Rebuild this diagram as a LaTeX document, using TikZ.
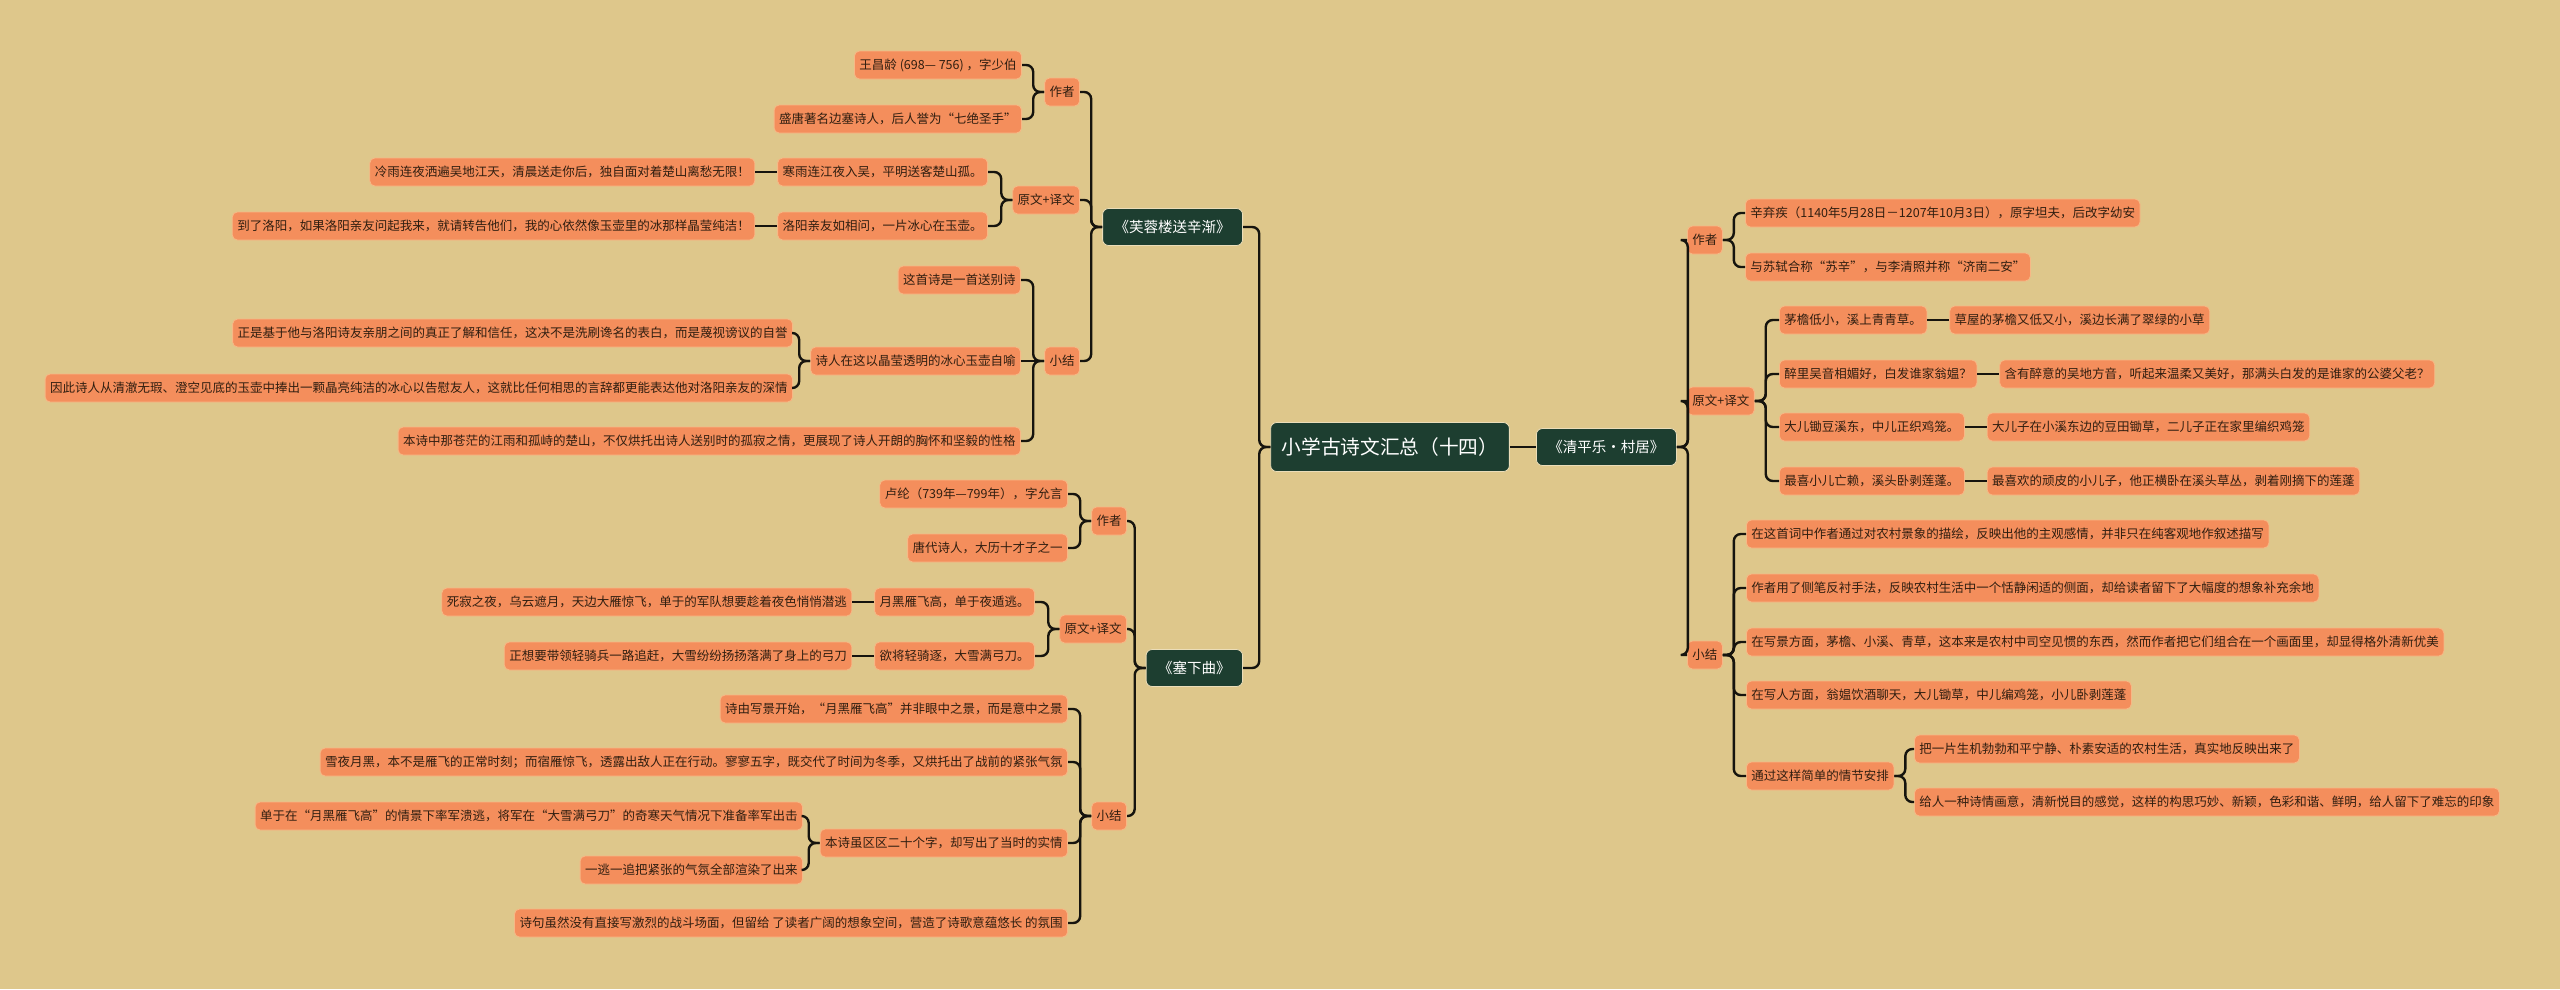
\documentclass[tikz,border=0pt]{standalone}
\usepackage{fontspec}
\setmainfont{Noto Sans CJK SC}
\usetikzlibrary{positioning}
\definecolor{bgtan}{RGB}{222,199,139}
\definecolor{leaffill}{RGB}{244,142,92}
\definecolor{leafline}{RGB}{247,184,134}
\definecolor{leaftext}{RGB}{48,30,16}
\definecolor{topicfill}{RGB}{29,62,48}
\definecolor{linkcol}{RGB}{22,20,14}
\tikzset {
  every node/.style={font=\fontsize{12.5}{15}\selectfont},
  leaf/.style={draw=leafline, line width=0.8pt, fill=leaffill, text=leaftext,
    rounded corners=5pt, minimum height=28pt, inner xsep=5pt, inner ysep=2pt},
  topic/.style={draw=bgtan!60!white, line width=0.8pt, fill=topicfill, text=white,
    rounded corners=6pt, minimum height=37pt, inner xsep=12pt,
    font=\fontsize{14.5}{17}\selectfont},
  rootnode/.style={topic, minimum height=49pt, inner xsep=11pt,
    font=\fontsize{19.7}{23}\selectfont},
  link/.style={draw=linkcol, line width=2.4pt, rounded corners=7pt},
}

\begin{document}
\begin{tikzpicture}[x=1pt,y=-1pt]
  \fill[bgtan] (0,0) rectangle (2560,989);
  \useasboundingbox (0,0) rectangle (2560,989);

  \node[rootnode] (root) at (1390,447) {小学古诗文汇总（十四）};

  % 芙蓉楼送辛渐
  \node[topic,anchor=east] (fr) at (1243,227) {《芙蓉楼送辛渐》};
  \node[leaf,anchor=east] (fzz) at (1080,92) {作者};
  \node[leaf,anchor=east] (fzz1) at (1022,65) {王昌龄 (698— 756) ，字少伯};
  \node[leaf,anchor=east] (fzz2) at (1022,119) {盛唐著名边塞诗人，后人誉为“七绝圣手”};
  \node[leaf,anchor=east] (fyw) at (1080,200) {原文+译文};
  \node[leaf,anchor=east] (fyw1) at (988,172) {寒雨连江夜入吴，平明送客楚山孤。};
  \node[leaf,left=22pt of fyw1] (fyw1t) {冷雨连夜洒遍吴地江天，清晨送走你后，独自面对着楚山离愁无限！};
  \node[leaf,anchor=east] (fyw2) at (988,226) {洛阳亲友如相问，一片冰心在玉壶。};
  \node[leaf,left=22pt of fyw2] (fyw2t) {到了洛阳，如果洛阳亲友问起我来，就请转告他们，我的心依然像玉壶里的冰那样晶莹纯洁！};
  \node[leaf,anchor=east] (fxj) at (1080,361) {小结};
  \node[leaf,anchor=east] (fxj1) at (1021,280) {这首诗是一首送别诗};
  \node[leaf,anchor=east] (fxj2) at (1021,361) {诗人在这以晶莹透明的冰心玉壶自喻};
  \node[leaf,anchor=east] (fxj2a) at (793,333) {正是基于他与洛阳诗友亲朋之间的真正了解和信任，这决不是洗刷谗名的表白，而是蔑视谤议的自誉};
  \node[leaf,anchor=east] (fxj2b) at (793,388) {因此诗人从清澈无瑕、澄空见底的玉壶中捧出一颗晶亮纯洁的冰心以告慰友人，这就比任何相思的言辞都更能表达他对洛阳亲友的深情};
  \node[leaf,anchor=east] (fxj3) at (1021,441) {本诗中那苍茫的江雨和孤峙的楚山，不仅烘托出诗人送别时的孤寂之情，更展现了诗人开朗的胸怀和坚毅的性格};

  % 塞下曲
  \node[topic,anchor=east] (sx) at (1243,668) {《塞下曲》};
  \node[leaf,anchor=east] (szz) at (1127,521) {作者};
  \node[leaf,anchor=east] (szz1) at (1068,494) {卢纶（739年—799年），字允言};
  \node[leaf,anchor=east] (szz2) at (1068,548) {唐代诗人，大历十才子之一};
  \node[leaf,anchor=east] (syw) at (1127,629) {原文+译文};
  \node[leaf,anchor=east] (syw1) at (1035,602) {月黑雁飞高，单于夜遁逃。};
  \node[leaf,left=22pt of syw1] (syw1t) {死寂之夜，乌云遮月，天边大雁惊飞，单于的军队想要趁着夜色悄悄潜逃};
  \node[leaf,anchor=east] (syw2) at (1035,656) {欲将轻骑逐，大雪满弓刀。};
  \node[leaf,left=22pt of syw2] (syw2t) {正想要带领轻骑兵一路追赶，大雪纷纷扬扬落满了身上的弓刀};
  \node[leaf,anchor=east] (sxj) at (1127,816) {小结};
  \node[leaf,anchor=east] (sxj1) at (1068,709) {诗由写景开始，“月黑雁飞高”并非眼中之景，而是意中之景};
  \node[leaf,anchor=east] (sxj2) at (1068,762) {雪夜月黑，本不是雁飞的正常时刻；而宿雁惊飞，透露出敌人正在行动。寥寥五字，既交代了时间为冬季，又烘托出了战前的紧张气氛};
  \node[leaf,anchor=east] (sxj3) at (1068,843) {本诗虽区区二十个字，却写出了当时的实情};
  \node[leaf,anchor=east] (sxj3a) at (803,816) {单于在“月黑雁飞高”的情景下率军溃逃，将军在“大雪满弓刀”的奇寒天气情况下准备率军出击};
  \node[leaf,anchor=east] (sxj3b) at (803,870) {一逃一追把紧张的气氛全部渲染了出来};
  \node[leaf,anchor=east] (sxj4) at (1068,923) {诗句虽然没有直接写激烈的战斗场面，但留给 了读者广阔的想象空间，营造了诗歌意蕴悠长 的氛围};

  % 清平乐·村居
  \node[topic,anchor=west] (qp) at (1536,447) {《清平乐·村居》};
  \node[leaf,anchor=west] (qzz) at (1687,240) {作者};
  \node[leaf,anchor=west] (qzz1) at (1745,213) {辛弃疾（1140年5月28日－1207年10月3日），原字坦夫，后改字幼安};
  \node[leaf,anchor=west] (qzz2) at (1745,267) {与苏轼合称“苏辛”，与李清照并称“济南二安”};
  \node[leaf,anchor=west] (qyw) at (1687,401) {原文+译文};
  \node[leaf,anchor=west] (qyw1) at (1779,320) {茅檐低小，溪上青青草。};
  \node[leaf,right=22pt of qyw1] (qyw1t) {草屋的茅檐又低又小，溪边长满了翠绿的小草};
  \node[leaf,anchor=west] (qyw2) at (1779,374) {醉里吴音相媚好，白发谁家翁媪？};
  \node[leaf,right=22pt of qyw2] (qyw2t) {含有醉意的吴地方音，听起来温柔又美好，那满头白发的是谁家的公婆父老？};
  \node[leaf,anchor=west] (qyw3) at (1779,427) {大儿锄豆溪东，中儿正织鸡笼。};
  \node[leaf,right=22pt of qyw3] (qyw3t) {大儿子在小溪东边的豆田锄草，二儿子正在家里编织鸡笼};
  \node[leaf,anchor=west] (qyw4) at (1779,481) {最喜小儿亡赖，溪头卧剥莲蓬。};
  \node[leaf,right=22pt of qyw4] (qyw4t) {最喜欢的顽皮的小儿子，他正横卧在溪头草丛，剥着刚摘下的莲蓬};
  \node[leaf,anchor=west] (qxj) at (1687,655) {小结};
  \node[leaf,anchor=west] (qxj1) at (1746,534) {在这首词中作者通过对农村景象的描绘，反映出他的主观感情，并非只在纯客观地作叙述描写};
  \node[leaf,anchor=west] (qxj2) at (1746,588) {作者用了侧笔反衬手法，反映农村生活中一个恬静闲适的侧面，却给读者留下了大幅度的想象补充余地};
  \node[leaf,anchor=west] (qxj3) at (1746,642) {在写景方面，茅檐、小溪、青草，这本来是农村中司空见惯的东西，然而作者把它们组合在一个画面里，却显得格外清新优美};
  \node[leaf,anchor=west] (qxj4) at (1746,695) {在写人方面，翁媪饮酒聊天，大儿锄草，中儿编鸡笼，小儿卧剥莲蓬};
  \node[leaf,anchor=west] (qxj5) at (1746,776) {通过这样简单的情节安排};
  \node[leaf,anchor=west] (qxj5a) at (1914,749) {把一片生机勃勃和平宁静、朴素安适的农村生活，真实地反映出来了};
  \node[leaf,anchor=west] (qxj5b) at (1914,802) {给人一种诗情画意，清新悦目的感觉，这样的构思巧妙、新颖，色彩和谐、鲜明，给人留下了难忘的印象};

  % connectors, left half
  \foreach \p/\c in {root/fr, root/sx,
      fr/fzz, fr/fyw, fr/fxj, fzz/fzz1, fzz/fzz2, fyw/fyw1, fyw/fyw2,
      fxj/fxj1, fxj/fxj3, fxj2/fxj2a, fxj2/fxj2b,
      sx/szz, sx/syw, sx/sxj, szz/szz1, szz/szz2, syw/syw1, syw/syw2,
      sxj/sxj1, sxj/sxj2, sxj/sxj3, sxj/sxj4, sxj3/sxj3a, sxj3/sxj3b}
    \draw[link] (\p.west) -- ++(-11,0) |- (\c.east);
  \foreach \p/\c in {fyw1/fyw1t, fyw2/fyw2t, fxj/fxj2, syw1/syw1t, syw2/syw2t}
    \draw[link] (\p.west) -- (\c.east);
  % connectors, right half
  \foreach \p/\c in {qp/qzz, qp/qyw, qp/qxj, qzz/qzz1, qzz/qzz2,
      qyw/qyw1, qyw/qyw2, qyw/qyw3, qyw/qyw4,
      qxj/qxj1, qxj/qxj2, qxj/qxj3, qxj/qxj4, qxj/qxj5, qxj5/qxj5a, qxj5/qxj5b}
    \draw[link] (\p.east) -- ++(11,0) |- (\c.west);
  \foreach \p/\c in {root/qp, qyw1/qyw1t, qyw2/qyw2t, qyw3/qyw3t, qyw4/qyw4t}
    \draw[link] (\p.east) -- (\c.west);
\end{tikzpicture}
\end{document}
